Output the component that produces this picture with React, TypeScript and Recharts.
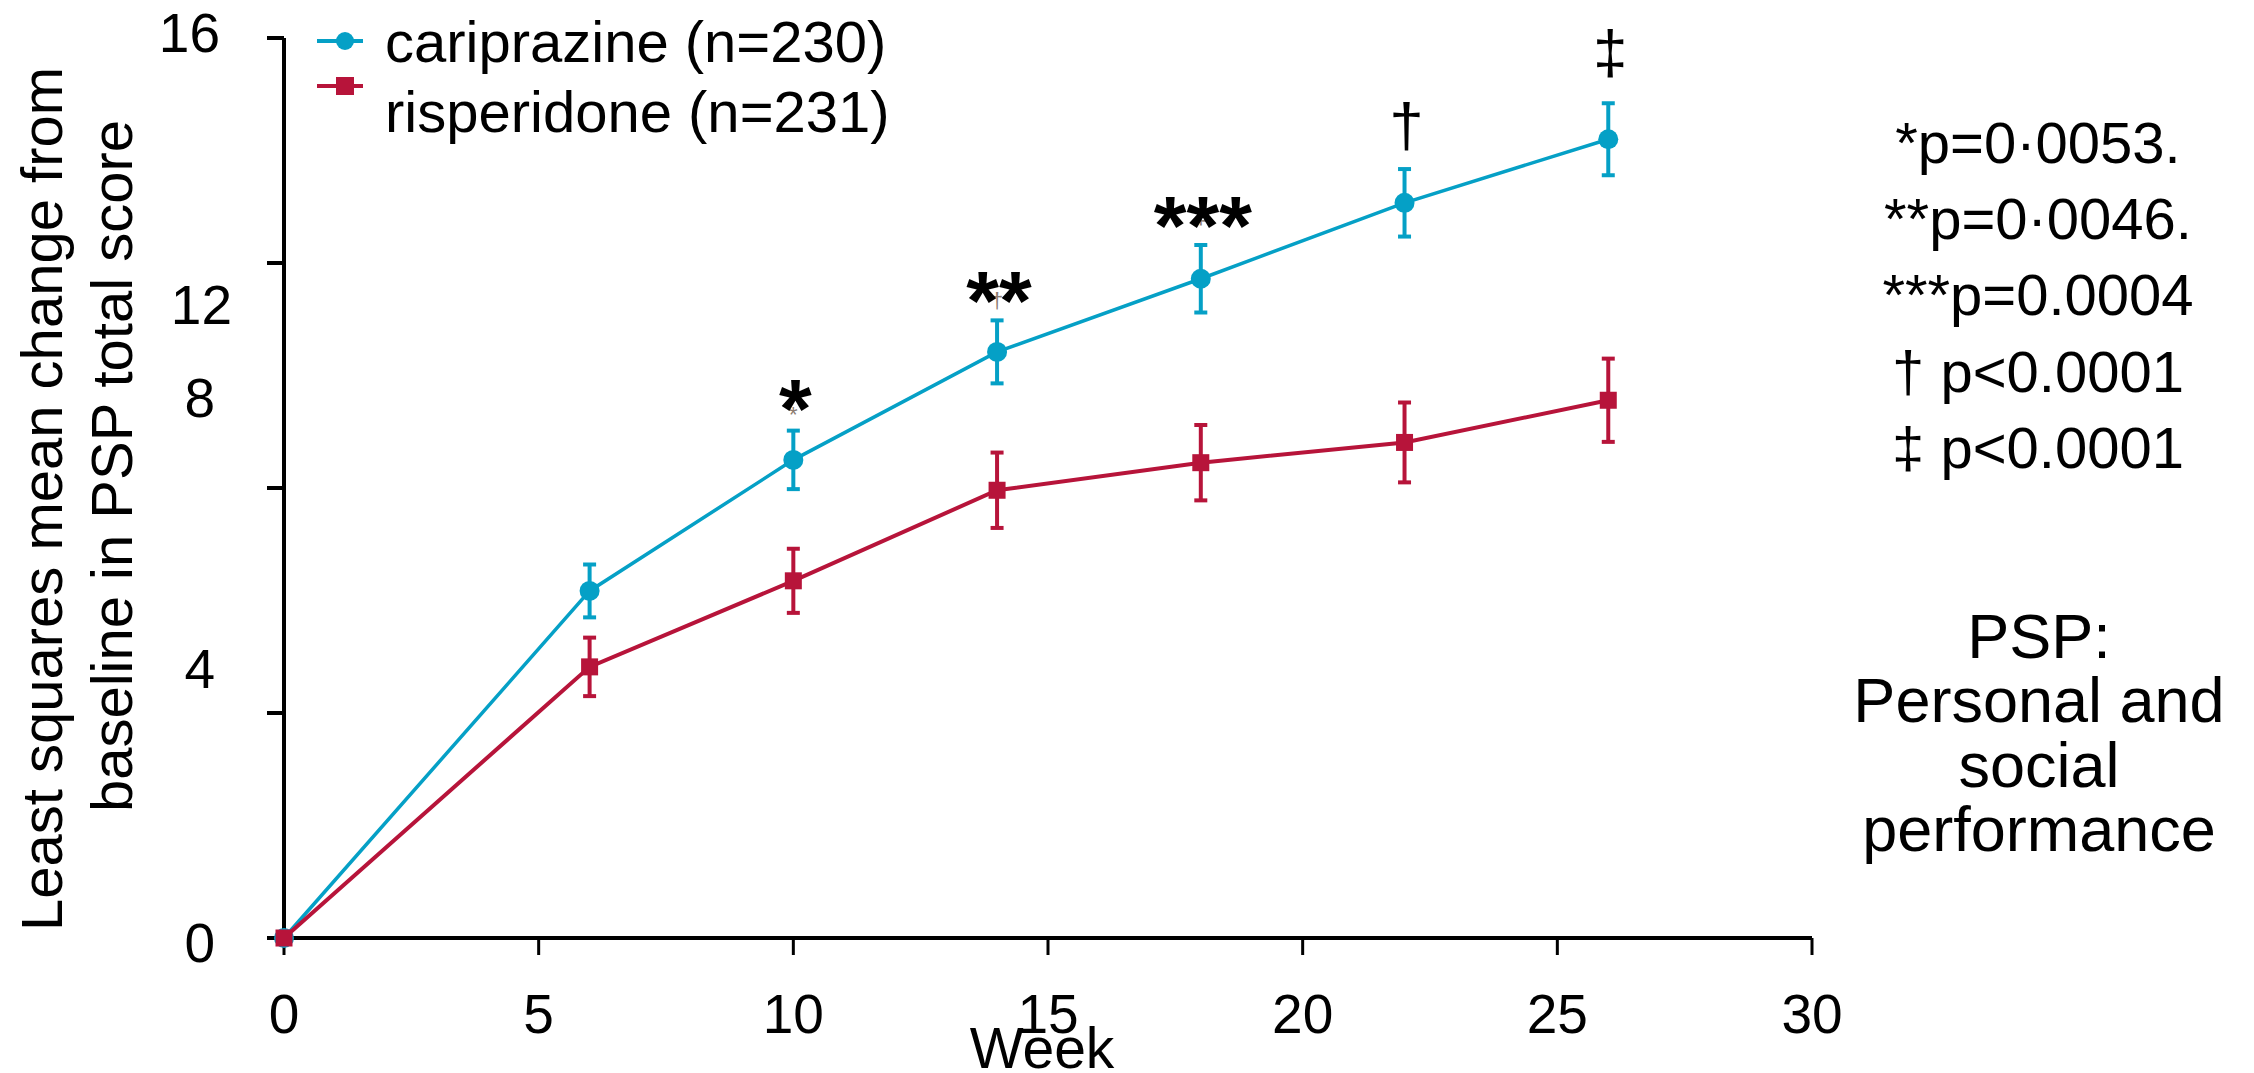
import React from 'react';
import { LineChart, Line, XAxis, YAxis, ErrorBar } from 'recharts';

// weeks of assessment
const weeks = [0, 6, 10, 14, 18, 22, 26];

// least squares mean change from baseline (PSP total score) with error
const cariprazine = [0, 6.17, 8.5, 10.42, 11.72, 13.07, 14.2];
const cariprazineErr = [0, 0.47, 0.52, 0.56, 0.6, 0.6, 0.64];
const risperidone = [0, 4.82, 6.35, 7.96, 8.45, 8.81, 9.56];
const risperidoneErr = [0, 0.52, 0.57, 0.67, 0.67, 0.71, 0.74];

// significance marks over the cariprazine points
const sigMarks = ['', '', '*', '**', '***', '†', '‡'];
const faintMarks = ['', '', '*', '†', '‡', '', ''];

const xTicks = [0, 5, 10, 15, 20, 25, 30];
const yTicks = [0, 4, 8, 12, 16];

const seriesNames = ['cariprazine (n=230)', 'risperidone (n=231)'];
const pValueNotes = ['*p=0·0053.', '**p=0·0046.', '***p=0.0004', '† p<0.0001', '‡ p<0.0001'];
const abbrevNotes = ['PSP:', 'Personal and', 'social', 'performance'];

const FONT = '"Liberation Sans", Arial, Helvetica, sans-serif';
const CYAN = '#05a0c6';
const CRIMSON = '#b7143a';

const data = weeks.map((w, i) => ({
  week: w,
  cariprazine: cariprazine[i],
  cariprazineErr: cariprazineErr[i],
  risperidone: risperidone[i],
  risperidoneErr: risperidoneErr[i],
  sig: sigMarks[i],
  faint: faintMarks[i],
}));

// the source figure has its y tick labels drifted off the ticks
const yLabelShift: Record<number, { dx: number; dy: number }> = {
  16: { dx: 2, dy: -6 },
  12: { dx: 14, dy: 41 },
  8: { dx: -3, dy: -91 },
  4: { dx: -3, dy: -45 },
  0: { dx: -3, dy: 4 },
};

const markStyle: Record<string, { size: number; weight: number; dy: number }> = {
  '*': { size: 84, weight: 700, dy: -22 },
  '**': { size: 84, weight: 700, dy: -22 },
  '***': { size: 84, weight: 700, dy: -24 },
  '†': { size: 62, weight: 400, dy: -57 },
  '‡': { size: 62, weight: 400, dy: -66 },
};
const faintShift: Record<string, number> = { '*': -38, '†': -44, '‡': -55 };

const YTick = (props: any) => {
  const { x, y, payload } = props;
  const s = yLabelShift[payload.value] || { dx: 0, dy: 0 };
  return (
    <text x={x - 49 + s.dx} y={y + s.dy + 20} textAnchor="end" fontSize={55} fontFamily={FONT} fill="#000">
      {payload.value}
    </text>
  );
};

const XTick = (props: any) => {
  const { x, y, payload } = props;
  return (
    <text x={x} y={y + 78} textAnchor="middle" fontSize={55} fontFamily={FONT} fill="#000">
      {payload.value}
    </text>
  );
};

const CariprazineDot = (props: any) => {
  const { cx, cy, index, payload } = props;
  const st = markStyle[payload.sig];
  const fy = faintShift[payload.faint];
  return (
    <g key={`c-dot-${index}`}>
      <circle cx={cx} cy={cy} r={10} fill={CYAN} />
      {payload.faint && (
        <text x={cx} y={cy + fy} textAnchor="middle" fontSize={22} fontFamily={FONT} fill="#8c7b70">
          {payload.faint}
        </text>
      )}
      {st && (
        <text x={cx + 2} y={cy + st.dy} textAnchor="middle" fontSize={st.size} fontWeight={st.weight} fontFamily={FONT} fill="#000">
          {payload.sig}
        </text>
      )}
    </g>
  );
};

const RisperidoneDot = (props: any) => {
  const { cx, cy, index } = props;
  return <rect key={`r-dot-${index}`} x={cx - 8.5} y={cy - 8.5} width={17} height={17} fill={CRIMSON} />;
};

const renderYTitle = (props: any) => {
  const vb = props.viewBox;
  const x1 = vb.x + 62;
  const y1 = vb.y + 461;
  const x2 = vb.x + 132;
  const y2 = vb.y + 428;
  return (
    <g fontFamily={FONT} fontSize={58} fill="#000">
      <text x={x1} y={y1} textAnchor="middle" transform={`rotate(-90 ${x1} ${y1})`}>
        Least squares mean change from
      </text>
      <text x={x2} y={y2} textAnchor="middle" transform={`rotate(-90 ${x2} ${y2})`}>
        baseline in PSP total score
      </text>
    </g>
  );
};

const renderXTitle = (props: any) => {
  const vb = props.viewBox;
  return (
    <text x={vb.x + vb.width / 2 - 6} y={vb.y + 130} textAnchor="middle" fontFamily={FONT} fontSize={57} fill="#000">
      Week
    </text>
  );
};

export default function App() {
  return (
    <div style={{ position: 'absolute', left: 0, top: 0, width: 2254, height: 1073, background: '#fff' }}>
      <LineChart width={2254} height={1073} data={data} margin={{ top: 38, right: 442, bottom: 0, left: 0 }}>
        <XAxis
          type="number"
          dataKey="week"
          domain={[0, 30]}
          ticks={xTicks}
          height={135}
          tickSize={17}
          tickMargin={0}
          axisLine={{ stroke: '#000', strokeWidth: 4 }}
          tickLine={{ stroke: '#000', strokeWidth: 3 }}
          tick={<XTick />}
          label={{ content: renderXTitle }}
        />
        <YAxis
          type="number"
          domain={[0, 16]}
          ticks={yTicks}
          width={284}
          tickSize={17}
          tickMargin={0}
          axisLine={{ stroke: '#000', strokeWidth: 4 }}
          tickLine={{ stroke: '#000', strokeWidth: 4 }}
          tick={<YTick />}
          label={{ content: renderYTitle }}
        />
        <Line
          type="linear"
          dataKey="cariprazine"
          name={seriesNames[0]}
          stroke={CYAN}
          strokeWidth={3.5}
          dot={CariprazineDot}
          activeDot={false}
          isAnimationActive={false}
        >
          <ErrorBar dataKey="cariprazineErr" direction="y" width={6.5} stroke={CYAN} strokeWidth={4} isAnimationActive={false} />
        </Line>
        <Line
          type="linear"
          dataKey="risperidone"
          name={seriesNames[1]}
          stroke={CRIMSON}
          strokeWidth={4}
          dot={RisperidoneDot}
          activeDot={false}
          isAnimationActive={false}
        >
          <ErrorBar dataKey="risperidoneErr" direction="y" width={6.5} stroke={CRIMSON} strokeWidth={4} isAnimationActive={false} />
        </Line>
      </LineChart>
      <svg
        width={2254}
        height={1073}
        style={{ position: 'absolute', left: 0, top: 0, pointerEvents: 'none' }}
        fontFamily={FONT}
        fill="#000"
      >
        {/* legend */}
        <line x1={317} y1={41} x2={363} y2={41} stroke={CYAN} strokeWidth={4} />
        <circle cx={345} cy={41} r={9} fill={CYAN} />
        <text x={385} y={62} fontSize={58}>{seriesNames[0]}</text>
        <line x1={317} y1={86} x2={363} y2={86} stroke={CRIMSON} strokeWidth={4} />
        <rect x={336} y={77} width={18} height={18} fill={CRIMSON} />
        <text x={385} y={132} fontSize={58}>{seriesNames[1]}</text>
        {/* notes on the right */}
        {pValueNotes.map((t, i) => (
          <text key={t} x={2038} y={163 + i * 76.2} textAnchor="middle" fontSize={58}>
            {t}
          </text>
        ))}
        {abbrevNotes.map((t, i) => (
          <text key={t} x={2039} y={658 + i * 64.3} textAnchor="middle" fontSize={63}>
            {t}
          </text>
        ))}
      </svg>
    </div>
  );
}
